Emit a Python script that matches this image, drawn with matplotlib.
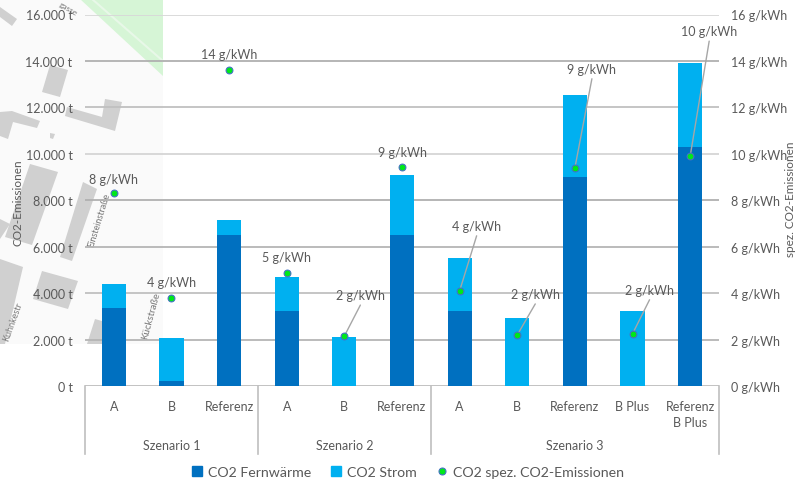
import numpy as np
import matplotlib.pyplot as plt
from matplotlib.patches import Polygon
from matplotlib.lines import Line2D

plt.rcParams['font.family'] = ['Lato', 'DejaVu Sans']

# --- Daten ---
categories = ['A', 'B', 'Referenz', 'A', 'B', 'Referenz', 'A', 'B', 'Referenz', 'B Plus', 'Referenz\nB Plus']
groups = ['Szenario 1', 'Szenario 2', 'Szenario 3']
group_sizes = [3, 3, 5]
fernwaerme = [3350, 200, 6500, 3250, 0, 6500, 3250, 0, 9000, 0, 10300]
strom = [1050, 1850, 650, 1450, 2100, 2600, 2250, 2950, 3550, 3250, 3600]
spez = [8.3, 3.8, 13.6, 4.85, 2.15, 9.45, 4.1, 2.2, 9.4, 2.25, 9.9]
spez_labels = [8, 4, 14, 5, 2, 9, 4, 2, 9, 2, 10]
# Versatz der Beschriftung in Pixel, relativ zum Punkt
label_offset = [(0, 14), (0, 16), (0, 16), (0, 16), (16, 41), (0, 15), (17, 65), (18, 41), (17, 99), (17, 44), (19, 125)]
has_leader = [False, False, False, False, True, False, True, True, True, True, True]

yticks = np.arange(0, 16001, 2000)
grid_colors = ['#bdbdbd', '#b5b5b5', '#c0c0c0', '#b5b5b5', '#b0b0b0', '#d5d5d5', '#c0c0c0', '#b0b0b0', '#d8d8d8']

DARK = '#0070c0'
LIGHT = '#00b0f0'
TXT = '#595959'
DOT = '#00e81a'
W, H = 797, 481

fig = plt.figure(figsize=(W / 100, H / 100), dpi=100)
ax = fig.add_axes([85 / W, 1 - 387 / H, 634 / W, (387 - 15.5) / H])
ax.patch.set_alpha(0)

# --- Kartenausschnitt im Hintergrund ---
bg = fig.add_axes([0, 0, 1, 1], zorder=-1)
bg.set_xlim(0, W)
bg.set_ylim(H, 0)
bg.axis('off')
bg.add_patch(Polygon([(0, 0), (163, 0), (163, 345), (0, 345)], color='#fafafa', lw=0))
bg.add_patch(Polygon([(80, 0), (163, 0), (163, 77)], color='#d6f5d6', lw=0))
bg.plot([92, 163], [0, 62], color='#e8f8e8', lw=1.5)
buildings = [
    [(0, 8), (17, 20), (12, 27), (0, 18)],
    [(50, 66), (68, 71), (60, 98), (42, 93)],
    [(105, 100), (122, 103), (115, 132), (65, 117), (67, 108), (102, 118)],
    [(0, 113), (12, 112), (40, 122), (37, 129), (13, 123), (8, 140), (0, 137)],
    [(50, 134), (55, 135), (53, 140), (50, 139)],
    [(30, 165), (58, 173), (32, 246), (5, 238)],
    [(83, 183), (97, 190), (72, 262), (60, 258)],
    [(0, 220), (10, 225), (0, 240)],
    [(0, 260), (23, 268), (5, 345), (0, 345)],
    [(42, 272), (78, 282), (68, 310), (33, 300)],
    [(95, 320), (112, 325), (102, 345), (87, 345)],
]
for b in buildings:
    bg.add_patch(Polygon(b, color='#d0d0d0', lw=0))
bg.text(99, 220, 'Einsteinstraße', rotation=73, fontsize=6.5, color='#777777', ha='center', va='center')
bg.text(151, 316, 'Kückstraße', rotation=75, fontsize=7, color='#777777', ha='center', va='center')
bg.text(13, 322, 'Kuhnkestr', rotation=70, fontsize=6.5, color='#777777', ha='center', va='center')
bg.text(68, 9, 'gasse', rotation=-30, fontsize=6, color='#777777', ha='center', va='center')

# --- Balken ---
x = np.arange(len(categories))
ax.set_xlim(-0.5, len(categories) - 0.5)
ax.set_ylim(0, 16000)
for tick, col in zip(yticks, grid_colors):
    ax.axhline(tick, color=col, lw=1.3, zorder=1)
ax.bar(x, fernwaerme, width=0.42, color=DARK, zorder=2, label='CO2 Fernwärme')
ax.bar(x, strom, width=0.42, bottom=fernwaerme, color=LIGHT, zorder=2, label='CO2 Strom')

ax.set_yticks(yticks)
ax.set_yticklabels([f'{t:,}'.replace(',', '.') + ' t' for t in yticks], fontsize=9, color=TXT)
ax.tick_params(axis='y', length=0, pad=9)
ax.set_xticks(x)
ax.set_xticklabels(categories, fontsize=9, color=TXT, linespacing=1.45, va='top')
ax.tick_params(axis='x', length=0, pad=10)
for s in ax.spines.values():
    s.set_visible(False)

# --- Sekundärachse mit spez. Emissionen ---
ax2 = ax.twinx()
ax2.set_ylim(0, 16)
ax2.set_yticks(yticks / 1000)
ax2.set_yticklabels([f'{int(t / 1000)} g/kWh' for t in yticks], fontsize=9, color=TXT)
ax2.tick_params(axis='y', length=0, pad=8.6)
for s in ax2.spines.values():
    s.set_visible(False)
ax2.scatter(x, spez, s=24, color=DOT, edgecolor='#4472c4', linewidth=0.8, zorder=5, label='CO2 spez. CO2-Emissionen')

for xi, val, lab, off, lead in zip(x, spez, spez_labels, label_offset, has_leader):
    ax2.annotate(f'{lab} g/kWh', (xi, val), xytext=off, textcoords='offset pixels',
                 ha='center', va='center', fontsize=9, color=TXT, zorder=6)
    if lead:
        # Führungslinie endet kurz unter der Beschriftung
        ax2.annotate('', (xi, val), xytext=(off[0], off[1] - 10), textcoords='offset pixels',
                     arrowprops=dict(arrowstyle='-', color='#a6a6a6', lw=1, shrinkA=0, shrinkB=0), zorder=4)

# --- Mehrstufige Kategorieachse ---
trans = ax.get_xaxis_transform()
edges = np.cumsum([0] + group_sizes) - 0.5
for e in edges:
    ax.add_line(Line2D([e, e], [0, -68 / 371.5], transform=trans, color='#bfbfbf', lw=1.2, clip_on=False))
for g, left, right in zip(groups, edges[:-1], edges[1:]):
    ax.text((left + right) / 2, -59 / 371.5, g, transform=trans, ha='center', va='center', fontsize=9, color=TXT)

ax.set_zorder(1)
ax2.set_zorder(2)

# --- Achsentitel ---
fig.text(18 / W, 1 - 203 / H, 'CO2-Emissionen', rotation=90, fontsize=8.5, color=TXT, ha='center', va='center')
fig.text(791 / W, 1 - 199 / H, 'spez. CO2-Emissionen', rotation=90, fontsize=8.5, color=TXT, ha='center', va='center')

# --- Legende ---
handles = [
    plt.Rectangle((0, 0), 1, 1, color=DARK),
    plt.Rectangle((0, 0), 1, 1, color=LIGHT),
    Line2D([], [], marker='o', ls='', markersize=5, markerfacecolor=DOT, markeredgecolor='#4472c4', markeredgewidth=0.8),
]
fig.legend(handles, ['CO2 Fernwärme', 'CO2 Strom', 'CO2 spez. CO2-Emissionen'], loc='center',
           bbox_to_anchor=(408 / W, 1 - 473 / H), ncol=3, frameon=False, fontsize=10.2, labelcolor=TXT,
           handlelength=0.7, handleheight=0.7, handletextpad=0.4, columnspacing=1.45, borderpad=0)

fig.savefig('out.png', dpi=100)
